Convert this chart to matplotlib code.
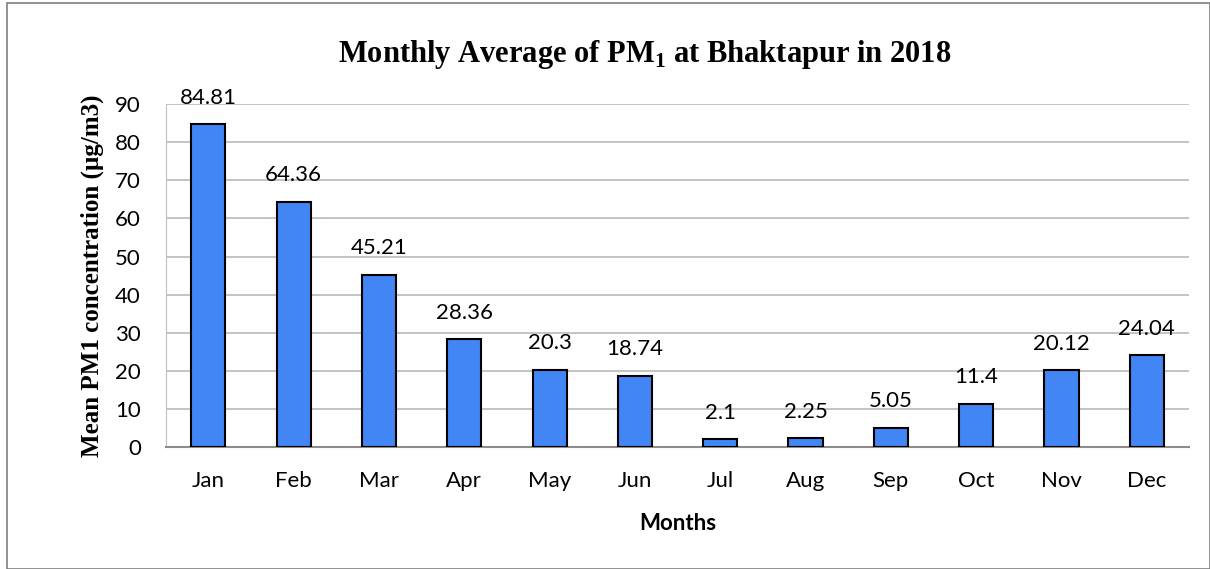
import matplotlib
matplotlib.use("Agg")
import matplotlib.pyplot as plt
from matplotlib.patches import Rectangle
import numpy as np

months = ["Jan", "Feb", "Mar", "Apr", "May", "Jun",
          "Jul", "Aug", "Sep", "Oct", "Nov", "Dec"]
pm1 = [84.81, 64.36, 45.21, 28.36, 20.3, 18.74,
       2.1, 2.25, 5.05, 11.4, 20.12, 24.04]
yticks = [0, 10, 20, 30, 40, 50, 60, 70, 80, 90]

sans = "Lato"
serif = "Liberation Serif"

plt.rcParams["mathtext.fontset"] = "custom"
plt.rcParams["mathtext.bf"] = "Liberation Serif:bold"
plt.rcParams["mathtext.rm"] = "Liberation Serif"

fig = plt.figure(figsize=(12.1, 5.69), dpi=100)
ax = fig.add_axes([0.137, 0.2144, 0.846, 0.6026])

# outer chart border
fig.patches.append(Rectangle((0.006, 0.0), 0.994, 0.995, transform=fig.transFigure,
                             fill=False, edgecolor="#7f7f7f", linewidth=1.2))

x = np.arange(len(months))
ax.bar(x, pm1, width=0.4, color="#4285F4", edgecolor="black", linewidth=1.5, zorder=3)

for xi, v in zip(x, pm1):
    ax.text(xi, v + 4.3, f"{v:g}", ha="center", va="bottom", fontsize=16,
            family=sans, color="black")

ax.set_xlim(-0.5, len(months) - 0.5)
ax.set_ylim(0, 90)
ax.set_yticks(yticks)
ax.set_xticks(x)
ax.set_xticklabels(months)
ax.tick_params(axis="both", length=0, labelsize=16)
ax.tick_params(axis="x", pad=17)
ax.tick_params(axis="y", pad=18)
for lab in ax.get_xticklabels() + ax.get_yticklabels():
    lab.set_family(sans)

ax.grid(axis="y", color="#bfbfbf", linewidth=1.3, zorder=0)
for side in ["top", "right"]:
    ax.spines[side].set_visible(False)
ax.spines["left"].set_color("#bfbfbf")
ax.spines["bottom"].set_color("#8c8c8c")
ax.spines["bottom"].set_linewidth(1.5)

ax.set_xlabel("Months", fontsize=16, fontweight="bold", family=sans, labelpad=16)
ax.set_ylabel("Mean PM1 concentration (µg/m3)", fontsize=18, fontweight="bold",
              family=serif, labelpad=8)

fig.text(0.533, 0.905, r"Monthly Average of PM$_\mathbf{1}$ at Bhaktapur in 2018",
         ha="center", va="center", fontsize=22, fontweight="bold", family=serif)

fig.savefig("out.png", dpi=100)
